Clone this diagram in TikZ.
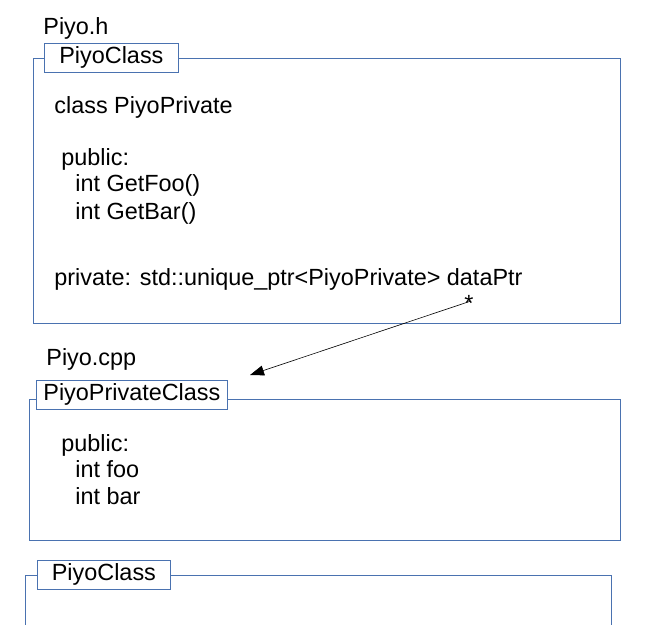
\documentclass[tikz,border=0pt]{standalone}
\usepackage{fontspec}
\setmainfont{Liberation Sans}
\usetikzlibrary{arrows.meta}
\definecolor{frameblue}{RGB}{74,114,176}
\begin{document}
\begin{tikzpicture}[x=1bp, y=-1bp, line width = 0.8pt,
  txt/.style = {anchor = base west, inner sep = 0pt, font = \fontsize{23.5}{28}\selectfont},
  tab/.style = {draw = frameblue, fill = white, anchor = north west, inner sep = 0pt,
    minimum height = 29bp, font = \fontsize{23.5}{28}\selectfont}]

\useasboundingbox (0,0) rectangle (671,625);

% Piyo.h
\node [txt] (hfile) at (43,35) {Piyo.h};
\draw [frameblue] (33,58) rectangle (620,323);
\node [tab, minimum width = 134bp] (classtab) at (44,43) {PiyoClass};
\node [txt] (decl) at (54,114) {class PiyoPrivate};
\node [txt] (pub1) at (61,166) {public:};
\node [txt] (getfoo) at (75,192) {int GetFoo()};
\node [txt] (getbar) at (75,219) {int GetBar()};
\node [txt] (priv) at (54,285) {private: std::unique\_ptr<PiyoPrivate> dataPtr};
\node [txt] (star) at (464,311) {*};

% Piyo.cpp
\node [txt] (cppfile) at (46,365) {Piyo.cpp};
\draw [frameblue] (29,399) rectangle (620,540);
\node [tab, minimum width = 191bp] (privtab) at (36,380) {PiyoPrivateClass};
\node [txt] (pub2) at (61,451) {public:};
\node [txt] (foo) at (75,477) {int foo};
\node [txt] (bar) at (75,504) {int bar};

\coordinate (target) at (250,375);
\draw [line width = 0.6pt, -{Triangle[length=14bp, width=10bp]}] (471,301) -- (target);

% second PiyoClass
\draw [frameblue] (25,625) -- (25,575) -- (611,575) -- (611,625);
\node [tab, minimum width = 133bp] (classtab2) at (37,560) {PiyoClass};

\end{tikzpicture}
\end{document}
